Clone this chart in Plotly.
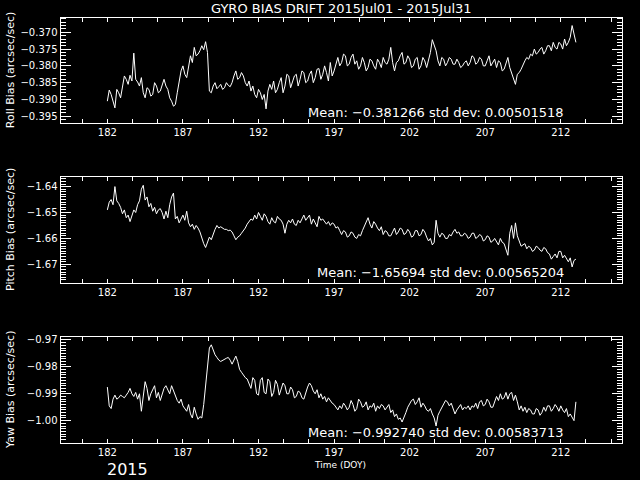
import plotly.graph_objects as go

day_start = 182.0
day_step = 0.125

roll = [
    -0.3905, -0.3872, -0.3885, -0.3910, -0.3925, -0.3870, -0.3880, -0.3895,
    -0.3855, -0.3830, -0.3840, -0.3855, -0.3828, -0.3845, -0.3762, -0.3840,
    -0.3848, -0.3860, -0.3835, -0.3880, -0.3895, -0.3865, -0.3870, -0.3890,
    -0.3885, -0.3850, -0.3860, -0.3880, -0.3875, -0.3855, -0.3840, -0.3860,
    -0.3870, -0.3895, -0.3905, -0.3920, -0.3915, -0.3880, -0.3850, -0.3815,
    -0.3800, -0.3825, -0.3835, -0.3795, -0.3770, -0.3790, -0.3745, -0.3770,
    -0.3765, -0.3755, -0.3740, -0.3752, -0.3728, -0.3760, -0.3875, -0.3880,
    -0.3860, -0.3850, -0.3868, -0.3862, -0.3855, -0.3870, -0.3865, -0.3850,
    -0.3858, -0.3862, -0.3850, -0.3830, -0.3815, -0.3840, -0.3835, -0.3820,
    -0.3830, -0.3850, -0.3860, -0.3845, -0.3875, -0.3860, -0.3885, -0.3895,
    -0.3870, -0.3880, -0.3900, -0.3885, -0.3928, -0.3875, -0.3855, -0.3870,
    -0.3845, -0.3880, -0.3870, -0.3850, -0.3835, -0.3880, -0.3860, -0.3825,
    -0.3830, -0.3865, -0.3850, -0.3830, -0.3825, -0.3860, -0.3840, -0.3815,
    -0.3820, -0.3850, -0.3845, -0.3825, -0.3815, -0.3850, -0.3835, -0.3810,
    -0.3808, -0.3840, -0.3825, -0.3800, -0.3820, -0.3845, -0.3790, -0.3830,
    -0.3815, -0.3790, -0.3775, -0.3800, -0.3790, -0.3765, -0.3770, -0.3800,
    -0.3795, -0.3775, -0.3765, -0.3795, -0.3785, -0.3810, -0.3800, -0.3775,
    -0.3790, -0.3815, -0.3805, -0.3780, -0.3785, -0.3800, -0.3810, -0.3780,
    -0.3790, -0.3805, -0.3775, -0.3790, -0.3795, -0.3780, -0.3745, -0.3790,
    -0.3815, -0.3790, -0.3785, -0.3770, -0.3760, -0.3795, -0.3790, -0.3770,
    -0.3780, -0.3805, -0.3800, -0.3780, -0.3775, -0.3810, -0.3800, -0.3775,
    -0.3785, -0.3805, -0.3780, -0.3760, -0.3722, -0.3740, -0.3755, -0.3785,
    -0.3800, -0.3775, -0.3780, -0.3800, -0.3790, -0.3775, -0.3780, -0.3795,
    -0.3795, -0.3780, -0.3790, -0.3805, -0.3800, -0.3790, -0.3785, -0.3800,
    -0.3790, -0.3770, -0.3775, -0.3795, -0.3790, -0.3775, -0.3780, -0.3800,
    -0.3800, -0.3785, -0.3770, -0.3800, -0.3790, -0.3780, -0.3805, -0.3785,
    -0.3790, -0.3815, -0.3810, -0.3790, -0.3775, -0.3805, -0.3820, -0.3840,
    -0.3855, -0.3825, -0.3820, -0.3810, -0.3795, -0.3785, -0.3775, -0.3780,
    -0.3765, -0.3770, -0.3750, -0.3765, -0.3760, -0.3750, -0.3745, -0.3765,
    -0.3755, -0.3740, -0.3740, -0.3755, -0.3730, -0.3745, -0.3750, -0.3730,
    -0.3735, -0.3750, -0.3720, -0.3740, -0.3730, -0.3715, -0.3680, -0.3705,
    -0.3730,
]

pitch = [
    -1.6490, -1.6460, -1.6450, -1.6470, -1.6400, -1.6455, -1.6465, -1.6480,
    -1.6505, -1.6490, -1.6520, -1.6510, -1.6535, -1.6515, -1.6490, -1.6500,
    -1.6470, -1.6455, -1.6410, -1.6395, -1.6452, -1.6440, -1.6478, -1.6465,
    -1.6495, -1.6480, -1.6505, -1.6490, -1.6485, -1.6500, -1.6525, -1.6495,
    -1.6520, -1.6470, -1.6440, -1.6425, -1.6525, -1.6515, -1.6540, -1.6525,
    -1.6510, -1.6530, -1.6495, -1.6540, -1.6555, -1.6545, -1.6565, -1.6550,
    -1.6560, -1.6575, -1.6600, -1.6620, -1.6635, -1.6610, -1.6595, -1.6605,
    -1.6580, -1.6565, -1.6550, -1.6560, -1.6555, -1.6560, -1.6565, -1.6565,
    -1.6570, -1.6568, -1.6575, -1.6590, -1.6605, -1.6595, -1.6590, -1.6580,
    -1.6570, -1.6560, -1.6545, -1.6535, -1.6525, -1.6530, -1.6510, -1.6525,
    -1.6500, -1.6515, -1.6530, -1.6505, -1.6515, -1.6535, -1.6545, -1.6520,
    -1.6535, -1.6540, -1.6515, -1.6525, -1.6530, -1.6545, -1.6580, -1.6545,
    -1.6530, -1.6540, -1.6525, -1.6545, -1.6550, -1.6530, -1.6540, -1.6525,
    -1.6510, -1.6530, -1.6520, -1.6510, -1.6545, -1.6525, -1.6540, -1.6555,
    -1.6515, -1.6530, -1.6525, -1.6535, -1.6545, -1.6535, -1.6550, -1.6540,
    -1.6545, -1.6560, -1.6555, -1.6570, -1.6585, -1.6570, -1.6575, -1.6595,
    -1.6590, -1.6575, -1.6580, -1.6595, -1.6600, -1.6585, -1.6590, -1.6570,
    -1.6555, -1.6540, -1.6520, -1.6545, -1.6560, -1.6535, -1.6545, -1.6560,
    -1.6570, -1.6555, -1.6585, -1.6570, -1.6575, -1.6590, -1.6590, -1.6575,
    -1.6560, -1.6585, -1.6575, -1.6560, -1.6565, -1.6585, -1.6580, -1.6565,
    -1.6575, -1.6595, -1.6590, -1.6570, -1.6570, -1.6590, -1.6585, -1.6565,
    -1.6575, -1.6595, -1.6610, -1.6600, -1.6625, -1.6615, -1.6530, -1.6580,
    -1.6595, -1.6580, -1.6585, -1.6600, -1.6600, -1.6585, -1.6590, -1.6575,
    -1.6565, -1.6580, -1.6575, -1.6590, -1.6590, -1.6580, -1.6585, -1.6600,
    -1.6595, -1.6580, -1.6580, -1.6600, -1.6595, -1.6585, -1.6590, -1.6610,
    -1.6605, -1.6590, -1.6595, -1.6615, -1.6610, -1.6600, -1.6615, -1.6625,
    -1.6600, -1.6615, -1.6620, -1.6640, -1.6665, -1.6580, -1.6550, -1.6600,
    -1.6540, -1.6590, -1.6615, -1.6630, -1.6625, -1.6620, -1.6640, -1.6630,
    -1.6635, -1.6650, -1.6645, -1.6630, -1.6635, -1.6645, -1.6650, -1.6635,
    -1.6640, -1.6655, -1.6660, -1.6680, -1.6670, -1.6660, -1.6675, -1.6650,
    -1.6650, -1.6675, -1.6665, -1.6680, -1.6690, -1.6675, -1.6710, -1.6685,
    -1.6680,
]

yaw = [
    -0.9875, -0.9945, -0.9955, -0.9920, -0.9905, -0.9920, -0.9915, -0.9905,
    -0.9910, -0.9915, -0.9905, -0.9895, -0.9880, -0.9900, -0.9910, -0.9895,
    -0.9920, -0.9900, -0.9965, -0.9910, -0.9855, -0.9880, -0.9925, -0.9900,
    -0.9885, -0.9870, -0.9915, -0.9895, -0.9925, -0.9905, -0.9880, -0.9870,
    -0.9885, -0.9900, -0.9870, -0.9890, -0.9910, -0.9925, -0.9935, -0.9920,
    -0.9945, -0.9955, -0.9965, -0.9940, -0.9975, -0.9990, -0.9950, -0.9975,
    -0.9995, -0.9985, -0.9990, -0.9940, -0.9860, -0.9790, -0.9730, -0.9718,
    -0.9740, -0.9755, -0.9765, -0.9775, -0.9780, -0.9775, -0.9770, -0.9768,
    -0.9765, -0.9775, -0.9790, -0.9775, -0.9760, -0.9780, -0.9810, -0.9820,
    -0.9830, -0.9840, -0.9845, -0.9860, -0.9880, -0.9840, -0.9850, -0.9900,
    -0.9905, -0.9850, -0.9840, -0.9895, -0.9900, -0.9845, -0.9855, -0.9910,
    -0.9895, -0.9850, -0.9865, -0.9905, -0.9880, -0.9860, -0.9870, -0.9900,
    -0.9900, -0.9875, -0.9885, -0.9915, -0.9910, -0.9890, -0.9895, -0.9915,
    -0.9920, -0.9895, -0.9875, -0.9860, -0.9870, -0.9890, -0.9900, -0.9885,
    -0.9915, -0.9900, -0.9920, -0.9910, -0.9930, -0.9915, -0.9925, -0.9935,
    -0.9940, -0.9950, -0.9960, -0.9945, -0.9955, -0.9935, -0.9945, -0.9960,
    -0.9950, -0.9925, -0.9940, -0.9965, -0.9955, -0.9920, -0.9930, -0.9950,
    -0.9945, -0.9930, -0.9960, -0.9945, -0.9950, -0.9935, -0.9965, -0.9945,
    -0.9955, -0.9940, -0.9945, -0.9960, -0.9950, -0.9940, -0.9970, -0.9960,
    -0.9985, -0.9975, -0.9995, -0.9990, -1.0005, -0.9990, -0.9970, -0.9950,
    -0.9935, -0.9925, -0.9920, -0.9940, -0.9930, -0.9915, -0.9950, -0.9935,
    -0.9945, -0.9960, -0.9965, -0.9955, -0.9975, -0.9990, -1.0020, -0.9980,
    -0.9965, -0.9950, -0.9935, -0.9925, -0.9930, -0.9945, -0.9935, -0.9955,
    -0.9975, -0.9960, -0.9950, -0.9940, -0.9960, -0.9950, -0.9955, -0.9945,
    -0.9960, -0.9945, -0.9950, -0.9935, -0.9955, -0.9930, -0.9925, -0.9945,
    -0.9940, -0.9920, -0.9930, -0.9950, -0.9950, -0.9925, -0.9910, -0.9925,
    -0.9900, -0.9920, -0.9915, -0.9895, -0.9920, -0.9900, -0.9895, -0.9925,
    -0.9905, -0.9930, -0.9960, -0.9945, -0.9965, -0.9950, -0.9970, -0.9955,
    -0.9960, -0.9975, -0.9975, -0.9955, -0.9960, -0.9980, -0.9970, -0.9950,
    -0.9965, -0.9945, -0.9945, -0.9965, -0.9955, -0.9940, -0.9950, -0.9965,
    -0.9945, -0.9960, -0.9970, -0.9955, -0.9985, -0.9975, -0.9990, -1.0000,
    -0.9930,
]

days = [day_start + i * day_step for i in range(len(roll))]

x_tick_vals = [182, 187, 192, 197, 202, 207, 212]
x_tick_text = ["182", "187", "192", "197", "202", "207", "212"]

title_text = "GYRO BIAS DRIFT 2015Jul01 - 2015Jul31"
y_titles = ["Roll Bias (arcsec/sec)", "Pitch Bias (arcsec/sec)", "Yaw Bias (arcsec/sec)"]
mean_texts = [
    "Mean: \u22120.381266 std dev: 0.00501518",
    "Mean: \u22121.65694 std dev: 0.00565204",
    "Mean: \u22120.992740 std dev: 0.00583713",
]

W, H = 640, 480
FONT = "DejaVu Sans"
x_left, x_right = 60.5, 622
panels = [(17.5, 123), (177, 283), (337, 443)]
y_ranges = [(-0.3970, -0.3656), (-1.6772, -1.6363), (-1.0083, -0.9689)]
y_dticks = [0.005, 0.01, 0.01]
y_formats = [".3f", ".2f", ".2f"]
series = [roll, pitch, yaw]

fig = go.Figure()
layout = dict(
    width=W, height=H,
    margin=dict(l=0, r=0, t=0, b=0, autoexpand=False),
    paper_bgcolor="black", plot_bgcolor="black",
    showlegend=False,
    font=dict(family=FONT, color="white", size=10),
    annotations=[],
)

for i, (top, bot) in enumerate(panels):
    n = "" if i == 0 else str(i + 1)
    fig.add_trace(go.Scatter(
        x=days, y=series[i], mode="lines",
        line=dict(color="white", width=1),
        xaxis="x" + n, yaxis="y" + n,
        hoverinfo="skip",
    ))
    layout["xaxis" + n] = dict(
        domain=[x_left / W, x_right / W],
        range=[178.9, 216.05],
        anchor="y" + n,
        showgrid=False, zeroline=False,
        showline=True, linecolor="white", linewidth=1, mirror="allticks",
        ticks="inside", ticklen=4, tickcolor="white", tickwidth=1,
        tickvals=x_tick_vals, ticktext=x_tick_text,
        tickfont=dict(size=10, color="white", family=FONT),
        minor=dict(tick0=182, dtick=5 / 3, ticks="inside", ticklen=4,
                   tickcolor="white", showgrid=False),
    )
    layout["yaxis" + n] = dict(
        domain=[1 - bot / H, 1 - top / H],
        range=list(y_ranges[i]),
        anchor="x" + n,
        showgrid=False, zeroline=False,
        showline=True, linecolor="white", linewidth=1, mirror="allticks",
        ticks="inside", ticklen=10, tickcolor="white", tickwidth=1,
        dtick=y_dticks[i], tickformat=y_formats[i],
        tickfont=dict(size=10, color="white", family=FONT),
        minor=dict(dtick=0.001, ticks="inside", ticklen=5,
                   tickcolor="white", showgrid=False),
    )
    layout["annotations"].append(dict(
        text=y_titles[i], textangle=-90, xref="paper", yref="paper",
        x=10 / W, y=1 - ((top + bot) / 2) / H, showarrow=False,
        font=dict(size=11, color="white", family=FONT),
        xanchor="center", yanchor="middle",
    ))
    layout["annotations"].append(dict(
        text=mean_texts[i], xref="paper", yref="paper",
        x=566 / W, y=1 - (bot - 11) / H, showarrow=False,
        font=dict(size=13, color="white", family=FONT),
        xanchor="right", yanchor="middle",
    ))

layout["annotations"].append(dict(
    text=title_text, xref="paper", yref="paper",
    x=341 / W, y=1 - 8 / H, showarrow=False,
    font=dict(size=13, color="white", family=FONT),
    xanchor="center", yanchor="middle",
))
layout["annotations"].append(dict(
    text="Time (DOY)", xref="paper", yref="paper",
    x=340 / W, y=1 - 465 / H, showarrow=False,
    font=dict(size=9, color="white", family=FONT),
    xanchor="center", yanchor="middle",
))
layout["annotations"].append(dict(
    text="2015", xref="paper", yref="paper",
    x=127 / W, y=1 - 469 / H, showarrow=False,
    font=dict(size=16, color="white", family=FONT),
    xanchor="center", yanchor="middle",
))

fig.update_layout(**layout)
fig.write_html(
    "out.html",
    config={"displayModeBar": False},
    post_script="document.body.style.margin='0px';document.body.style.background='black';",
)
